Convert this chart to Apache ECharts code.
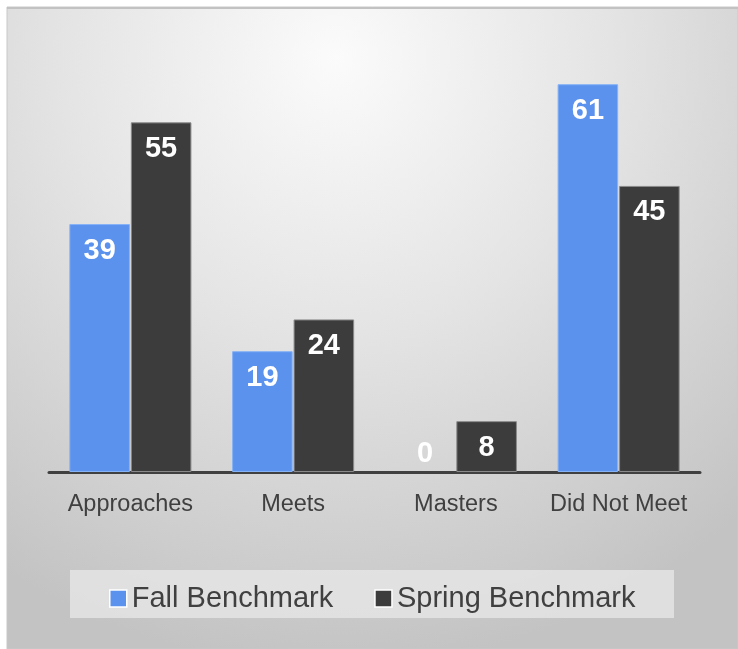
<!DOCTYPE html>
<html>
<head>
<meta charset="utf-8">
<script src="https://cdn.jsdelivr.net/npm/echarts@6/dist/echarts.min.js"></script>
<style>
html,body{margin:0;padding:0;background:#fff;}
#chart{width:738px;height:649px;}
</style>
</head>
<body>
<div id="chart"></div>
<script>
var categories = ['Approaches', 'Meets', 'Masters', 'Did Not Meet'];
var fallValues = [39, 19, 0, 61];
var springValues = [55, 24, 8, 45];
var seriesNames = ['Fall Benchmark', 'Spring Benchmark'];

var FONT = '"Liberation Sans", Arial, sans-serif';

function makeData(vals) {
  return vals.map(function (v) {
    if (v === 0) {
      return { value: v, itemStyle: { borderWidth: 0, color: 'rgba(0,0,0,0)' }, label: { position: 'top', distance: 4 } };
    }
    return v;
  });
}

var labelStyle = {
  show: true,
  position: 'insideTop',
  distance: 12,
  color: '#ffffff',
  fontFamily: FONT,
  fontWeight: 'bold',
  fontSize: 29
};

var chart = echarts.init(document.getElementById('chart'), null, { renderer: 'canvas' });
chart.setOption({
  animation: false,
  backgroundColor: '#ffffff',
  graphic: {
    elements: [
      {
        type: 'rect', z: -100, silent: true,
        shape: { x: 7, y: 7, width: 731, height: 642 },
        style: {
          fill: new echarts.graphic.RadialGradient(0.45, 0.08, 0.95, [
            { offset: 0, color: '#fbfbfb' },
            { offset: 0.45, color: '#e4e4e4' },
            { offset: 1, color: '#c3c3c3' }
          ]),
          stroke: '#c8c8c8', lineWidth: 1
        }
      },
      {
        type: 'line', z: -99, silent: true,
        shape: { x1: 7, y1: 8, x2: 738, y2: 8 },
        style: { stroke: '#c2c2c2', lineWidth: 2 }
      },
      {
        type: 'rect', z: -98, silent: true,
        shape: { x: 70, y: 570, width: 604, height: 48 },
        style: { fill: 'rgba(232,232,232,0.75)' }
      }
    ]
  },
  grid: { left: 49, right: 38, top: 27, bottom: 177, containLabel: false },
  legend: {
    data: seriesNames,
    left: 104,
    top: 579,
    itemWidth: 17,
    itemHeight: 17,
    itemGap: 41,
    icon: 'rect',
    itemStyle: { borderColor: '#ffffff', borderWidth: 1.5 },
    textStyle: { fontFamily: FONT, fontSize: 29, color: '#404040', padding: [0, 0, 0, 0] }
  },
  xAxis: {
    type: 'category',
    data: categories,
    axisLine: { show: true, lineStyle: { color: '#404040', width: 3 } },
    axisTick: { show: false },
    axisLabel: { interval: 0, color: '#404040', fontFamily: FONT, fontSize: 23.5, margin: 21 },
    splitLine: { show: false }
  },
  yAxis: {
    type: 'value',
    min: 0,
    max: 70,
    show: false,
    splitLine: { show: false }
  },
  series: [
    {
      name: seriesNames[0],
      type: 'bar',
      data: makeData(fallValues),
      barGap: '1.5%',
      barCategoryGap: '25%',
      itemStyle: { color: '#5a92ee', borderColor: '#86b2f6', borderWidth: 1 },
      label: labelStyle
    },
    {
      name: seriesNames[1],
      type: 'bar',
      data: makeData(springValues),
      barGap: '1.5%',
      barCategoryGap: '25%',
      itemStyle: { color: '#3c3c3c', borderColor: '#8a8a8a', borderWidth: 1 },
      label: labelStyle
    }
  ]
});
</script>
</body>
</html>
